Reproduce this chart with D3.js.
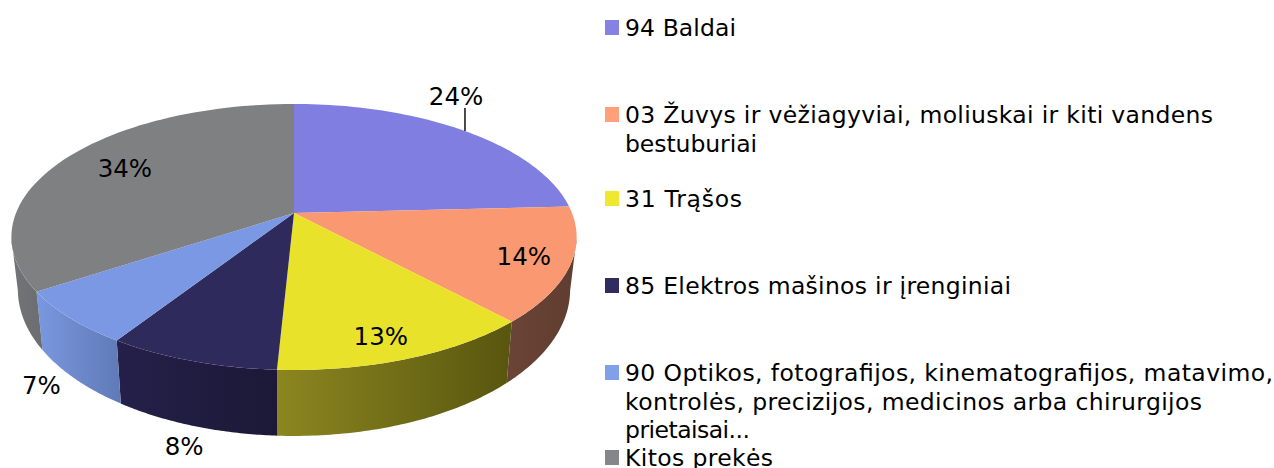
<!DOCTYPE html>
<html><head><meta charset="utf-8">
<script src="https://cdn.jsdelivr.net/npm/d3@7"></script>
<style>html,body{margin:0;padding:0;background:#fff;overflow:hidden}svg{display:block}text{font-family:"DejaVu Sans",sans-serif;fill:#000}</style>
</head><body><div id="c"></div>
<script>
const categories = ["94 Baldai","03 Žuvys ir vėžiagyviai, moliuskai ir kiti vandens bestuburiai","31 Trąšos","85 Elektros mašinos ir įrenginiai","90 Optikos, fotografijos, kinematografijos, matavimo, kontrolės, precizijos, medicinos arba chirurgijos prietaisai...","Kitos prekės"];
// Shares estimated from the wedges; they round to the printed percentages
const sliceValues = [24.2,13.9,12.7,8.3,6.6,34.3];
const topColors = ["#807ee0","#fa9872","#e9e22a","#2e2a5c","#7a98e4","#7f8082"];
const legendColors = ["#8682e4","#ffa07a","#f0e830","#312c60","#80a0ea","#85868a"];
const wallStops = [["#807ee0","#807ee0"],["#6b4436","#5f3d30"],["#8c8620","#58560f"],["#25204a","#1c1836"],["#7a98e0","#5f7ab6"],["#737477","#6c6d70"]];

const legendLines = [["94 Baldai"],["03 Žuvys ir vėžiagyviai, moliuskai ir kiti vandens","bestuburiai"],["31 Trąšos"],["85 Elektros mašinos ir įrenginiai"],["90 Optikos, fotografijos, kinematografijos, matavimo,","kontrolės, precizijos, medicinos arba chirurgijos","prietaisai..."],["Kitos prekės"]];
const legendWidths = [[111],[588,132],[117],[386],[648,577,125],[148]];

// layout
const W=1274,H=468, cx=294, cy=213, R=278, A=128.7, K=0.18;
const legendBaselines=[36,123,207,294,381,466], lineH=28.7, fontSize=23.5, labelSize=24.5;
const labelDeg=[32.7,112,161.9,192.3,214.2,299.9], labelRad=[1.29,.841,.858,1.398,1.303,.749];
const wallFrom=100.8, wallTo=259.2, leaderDeg=44;

const svg=d3.select("#c").append("svg").attr("width",W).attr("height",H);
const defs=svg.append("defs");
const project=(deg,r=1)=>{const a=deg*Math.PI/180,u=r*Math.sin(a),v=-r*Math.cos(a),d=1-K*v;return [cx+R*u/d,cy+A*v/d];};
const lower=([x,y])=>{const depth=66-(370-y)*0.1;return [cx+(x-cx)*0.977,y+depth];};
const toDeg=d3.scaleLinear().domain([0,2*Math.PI]).range([0,360]);
const arcs=d3.pie().sort(null).value(d=>d)(sliceValues).map((d,i)=>({i,a0:toDeg(d.startAngle),a1:toDeg(d.endAngle)}));
const rim=(a0,a1)=>d3.range(0,61).map(k=>project(a0+(a1-a0)*k/60));
const line=d3.line();

// side wall
arcs.forEach(s=>{
  const a0=Math.max(s.a0,wallFrom),a1=Math.min(s.a1,wallTo);
  if(a1<=a0) return;
  const top=rim(a0,a1), bot=top.map(lower);
  const xs=top.concat(bot).map(p=>p[0]);
  const g=defs.append("linearGradient").attr("id","w"+s.i).attr("gradientUnits","userSpaceOnUse")
    .attr("x1",d3.min(xs)).attr("x2",d3.max(xs)).attr("y1",0).attr("y2",0);
  g.append("stop").attr("offset",0).attr("stop-color",wallStops[s.i][0]);
  g.append("stop").attr("offset",1).attr("stop-color",wallStops[s.i][1]);
  svg.append("path").attr("d",line(top.concat(bot.reverse()))+"Z").attr("fill",`url(#w${s.i})`);
});
// top face
arcs.forEach(s=>{
  svg.append("path").attr("d",line([[cx,cy]].concat(rim(s.a0,s.a1)))+"Z").attr("fill",topColors[s.i]);
});
// data labels
sliceValues.forEach((t,i)=>{
  const [x,y]=project(labelDeg[i],labelRad[i]);
  svg.append("text").attr("x",x).attr("y",y).attr("dy","0.36em").attr("text-anchor","middle").attr("font-size",labelSize).text(Math.round(t)+"%");
});
const lp=project(leaderDeg);
svg.append("line").attr("x1",lp[0]).attr("x2",lp[0]).attr("y1",lp[1]).attr("y2",lp[1]-23).attr("stroke","#000").attr("stroke-width",1.4);
// legend
categories.forEach((c,i)=>{
  const b=legendBaselines[i];
  svg.append("rect").attr("x",605).attr("y",b-16).attr("width",14).attr("height",15).attr("fill",legendColors[i]);
  legendLines[i].forEach((l,k)=>svg.append("text").attr("x",625).attr("y",b+k*lineH).attr("font-size",fontSize)
    .attr("textLength",legendWidths[i][k]).attr("lengthAdjust","spacing").text(l));
});
</script></body></html>
